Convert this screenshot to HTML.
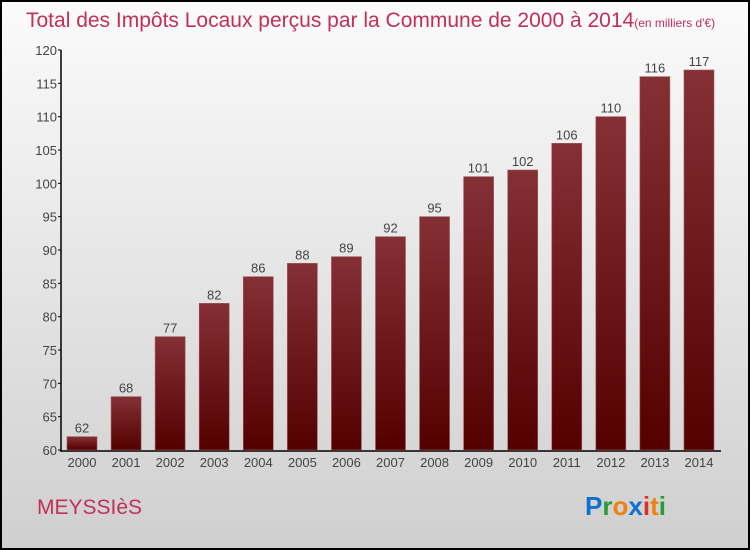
<!DOCTYPE html>
<html><head><meta charset="utf-8"><style>
body{margin:0;width:750px;height:550px;overflow:hidden}
svg{display:block;font-family:"Liberation Sans",sans-serif}
</style></head><body>
<svg id="c" width="750" height="550">
<defs>
<linearGradient id="bg" x1="0" y1="0" x2="0" y2="1"><stop offset="0" stop-color="#fbfbfb"/><stop offset="1" stop-color="#cfcfcf"/></linearGradient>
<linearGradient id="bar" x1="0" y1="0" x2="0" y2="1"><stop offset="0" stop-color="#853035"/><stop offset="1" stop-color="#540000"/></linearGradient>
</defs>
<rect x="1" y="1" width="748" height="548" fill="url(#bg)" stroke="#000" stroke-width="2"/>
<text x="26" y="27" font-size="21" fill="#c0305a">Total des Impôts Locaux perçus par la Commune de 2000 à 2014<tspan font-size="12">(en milliers d'€)</tspan></text>
<g id="axes"></g><g id="bars"></g>
<text x="37" y="514" font-size="21" fill="#c0305a">MEYSSIèS</text>
<text x="585" y="515" font-size="26" font-weight="bold"><tspan fill="#1070d0">P</tspan><tspan fill="#2a9a3a">r</tspan><tspan fill="#f08010">o</tspan><tspan fill="#1070d0">x</tspan><tspan fill="#e03020">i</tspan><tspan fill="#f08010">t</tspan><tspan fill="#2a9a3a">i</tspan></text>
</svg>
<script>
const years=["2000","2001","2002","2003","2004","2005","2006","2007","2008","2009","2010","2011","2012","2013","2014"];
const values=[62,68,77,82,86,88,89,92,95,101,102,106,110,116,117];
const ticks=[60,65,70,75,80,85,90,95,100,105,110,115,120];
const NS="http://www.w3.org/2000/svg";
const y=v=>450-(v-60)*400/60;
const band=44.07,x=i=>60+i*band;
const ax=document.getElementById('axes'),bg=document.getElementById('bars');
function mk(t,a,p,txt){const e=document.createElementNS(NS,t);for(const k in a)e.setAttribute(k,a[k]);if(txt!==undefined)e.textContent=txt;p.appendChild(e);return e;}
const yl=mk('line',{x1:61,y1:50,x2:61,y2:451,stroke:'#000','stroke-width':1.5},ax);


const xl=mk('line',{x1:60,y1:451,x2:721,y2:451,stroke:'#000','stroke-width':1.5},ax);


ticks.forEach(t=>{
 mk('line',{x1:58,y1:y(t),x2:61,y2:y(t),stroke:'#000'},ax);
 const l=mk('text',{x:57,y:y(t)+5,'font-size':13,fill:'#444','text-anchor':'end'},ax,t);
 
 
});
values.forEach((v,i)=>{
 const r=mk('rect',{x:x(i)+7,y:y(v),width:30,height:450-y(v),fill:'url(#bar)',stroke:'#a05a5e','stroke-width':0.6},bg);
 
 
 const vl=mk('text',{x:x(i)+22,y:y(v)-4,'font-size':13,fill:'#444','text-anchor':'middle'},bg,v);
 
 
 const xl2=mk('text',{x:x(i)+22,y:467,'font-size':13,fill:'#444','text-anchor':'middle'},bg,years[i]);
 
 
});
</script>
</body></html>
